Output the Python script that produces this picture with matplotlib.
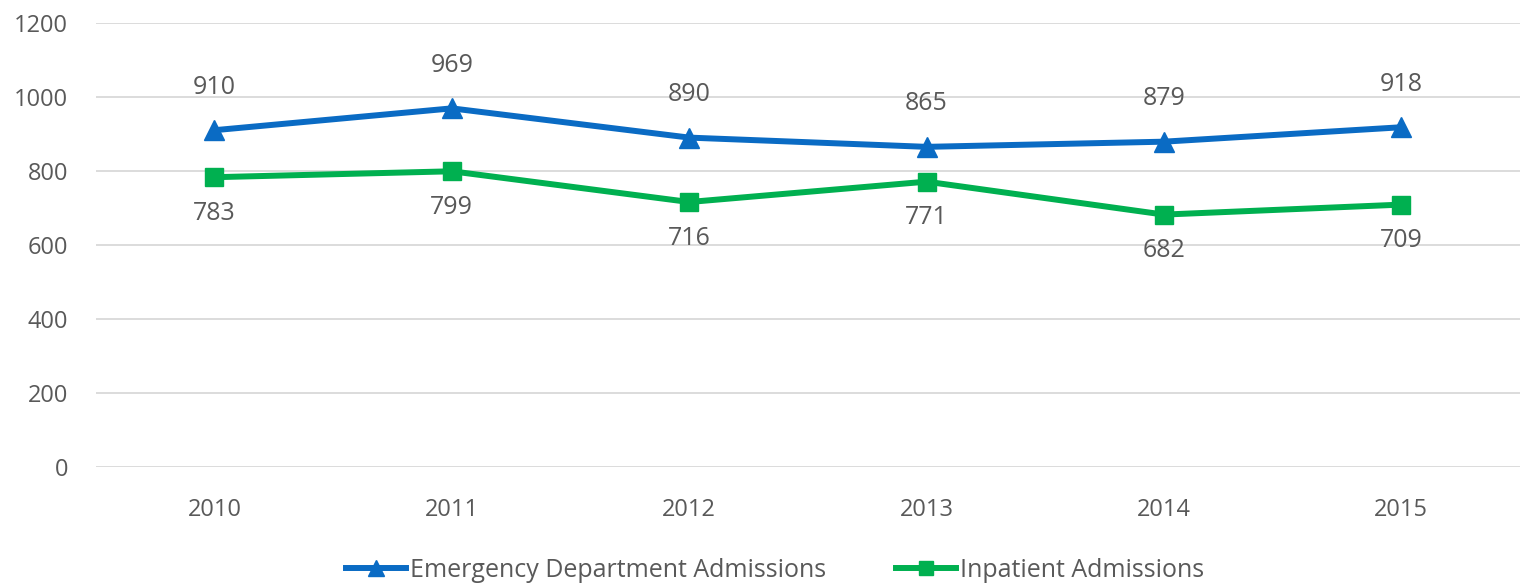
import matplotlib
matplotlib.use("Agg")
import matplotlib.pyplot as plt
import numpy as np

years = ["2010", "2011", "2012", "2013", "2014", "2015"]
emergency = [910, 969, 890, 865, 879, 918]
inpatient = [783, 799, 716, 771, 682, 709]

BLUE = "#0a6bc4"
GREEN = "#00b050"
TEXT = "#595959"
GRID = "#d9d9d9"

plt.rcParams["font.family"] = ["Open Sans", "DejaVu Sans"]

fig = plt.figure(figsize=(15.2, 5.86), dpi=100)
ax = fig.add_axes([0.063, 0.203, 0.937, 0.758])

x = np.arange(len(years))
ax.plot(x, emergency, color=BLUE, lw=4.3, marker="^", ms=15,
        label="Emergency Department Admissions")
ax.plot(x, inpatient, color=GREEN, lw=4.3, marker="s", ms=13,
        label="Inpatient Admissions")

for xi, v in zip(x, emergency):
    ax.annotate(str(v), (xi, v), xytext=(0, 22), textcoords="offset points",
                ha="center", va="bottom", fontsize=18, color=TEXT)
for xi, v in zip(x, inpatient):
    ax.annotate(str(v), (xi, v), xytext=(0, -17), textcoords="offset points",
                ha="center", va="top", fontsize=18, color=TEXT)

ax.set_xlim(-0.5, 5.5)
ax.set_ylim(0, 1200)
ax.set_yticks(range(0, 1201, 200))
ax.set_xticks(x)
ax.set_xticklabels(years)
ax.grid(axis="y", color=GRID, lw=1.3)
ax.set_axisbelow(True)
for s in ax.spines.values():
    s.set_visible(False)
ax.tick_params(length=0, labelsize=17, colors=TEXT)
ax.tick_params(axis="x", pad=22)
ax.tick_params(axis="y", pad=20)

fig.legend(loc="lower center", ncol=2, frameon=False, fontsize=18,
           bbox_to_anchor=(0.51, -0.033), handlelength=2.4, columnspacing=2.8,
           labelcolor=TEXT, handletextpad=0.15, markerscale=0.75)

fig.savefig("out.png", dpi=100)
plt.close(fig)
